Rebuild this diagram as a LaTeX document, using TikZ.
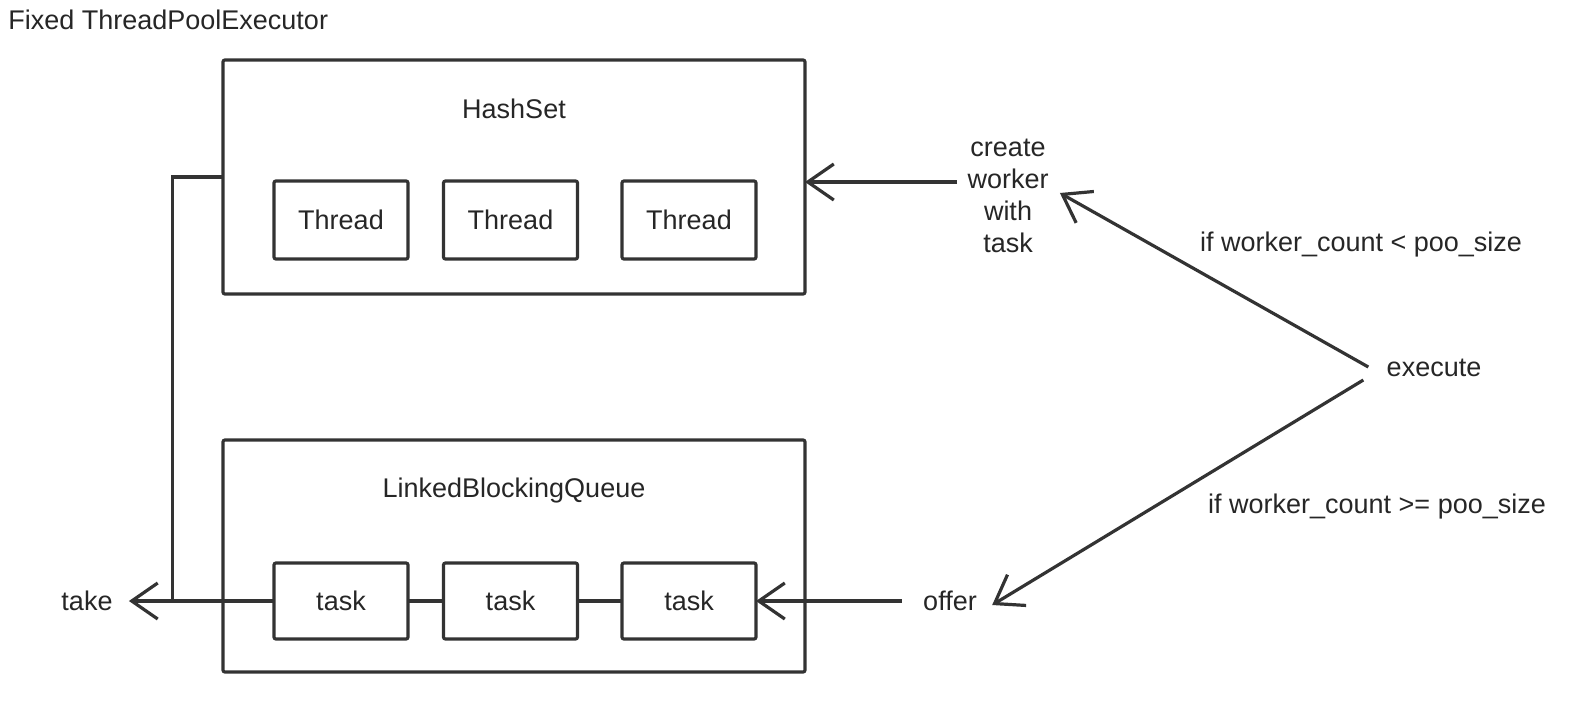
\documentclass[tikz,border=0pt]{standalone}
\usepackage{fontspec}
\setmainfont{Liberation Sans}
\usetikzlibrary{arrows.meta}

\tikzset{
  box/.style={draw=black!80, line width=1.6pt, rounded corners=1pt, outer sep=0pt},
  lbl/.style={inner sep=0pt, font=\fontsize{13.5pt}{16pt}\selectfont, text=black!85},
  conn/.style={draw=black!80, line width=1.6pt},
  arr/.style={conn, -{Straight Barb[length=13pt,width=18pt,line width=1.6pt]}}
}

\begin{document}
\begin{tikzpicture}[x=0.5pt, y=-0.5pt]
  \useasboundingbox (0,0) rectangle (1578,702);
  \node[lbl, anchor=west] (title) at (8,20) {Fixed ThreadPoolExecutor};

  \node[box, minimum width=291pt, minimum height=117pt] (hashset) at (514,177) {};
  \node[lbl] (hashsetname) at (514,109) {HashSet};
  \node[box, minimum width=67pt, minimum height=39pt] (thread1) at (341,220) {};
  \node[box, minimum width=67pt, minimum height=39pt] (thread2) at (510.5,220) {};
  \node[box, minimum width=67pt, minimum height=39pt] (thread3) at (689,220) {};
  \foreach \n in {thread1,thread2,thread3} \node[lbl] at (\n) {Thread};

  \node[box, minimum width=291pt, minimum height=116pt] (queue) at (514,556) {};
  \node[lbl] (queuename) at (514,491) {LinkedBlockingQueue};
  \node[box, minimum width=67pt, minimum height=38pt] (task1) at (341,601) {};
  \node[box, minimum width=67pt, minimum height=38pt] (task2) at (510.5,601) {};
  \node[box, minimum width=67pt, minimum height=38pt] (task3) at (689,601) {};
  \foreach \n in {task1,task2,task3} \node[lbl] at (\n) {task};

  \node[lbl] (take) at (87,601) {take};
  \node[lbl] (offer) at (950,601) {offer};
  \node[lbl, align=center] (create) at (1008,196) {create\\worker\\with\\task};
  \node[lbl] (execute) at (1434,368) {execute};
  \node[lbl] (cond1) at (1361,245) {if worker\_count < poo\_size};
  \node[lbl] (cond2) at (1377,507) {if worker\_count >= poo\_size};
  \coordinate (bend) at (172.7,601);

  \draw[conn] (hashset.west) -| (bend);
  \draw[arr] (task1.west) -- ([xshift=8pt]take.east);
  \draw[conn] (task1.east) -- (task2.west);
  \draw[conn] (task2.east) -- (task3.west);
  \draw[arr] ([xshift=-10.5pt]offer.west) -- (task3.east);
  \draw[arr] ([xshift=-5pt,yshift=7pt]create.west) -- ([yshift=7pt]create.west -| hashset.east);
  \draw[arr] ([xshift=-9pt,yshift=0.5pt]execute.west) -- ([xshift=5.5pt,yshift=1.5pt]create.east);
  \draw[arr] ([xshift=-11.5pt,yshift=-6pt]execute.west) -- ([xshift=7.5pt,yshift=-2pt]offer.east);
\end{tikzpicture}
\end{document}
